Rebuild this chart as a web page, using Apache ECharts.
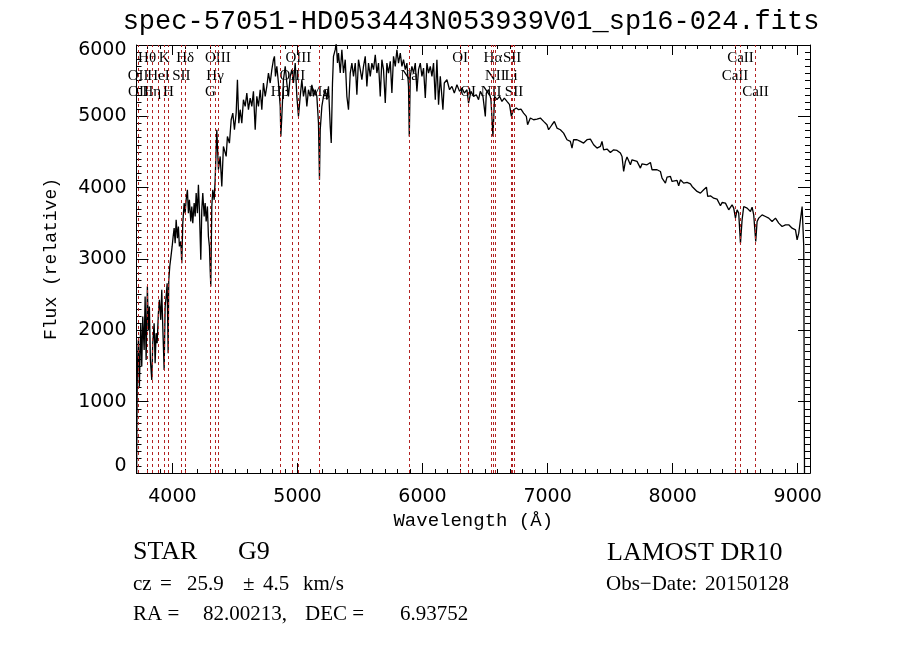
<!DOCTYPE html>
<html><head><meta charset="utf-8">
<script src="https://cdn.jsdelivr.net/npm/echarts@6/dist/echarts.min.js"></script>
<style>html,body{margin:0;padding:0;background:#fff}#c{width:900px;height:649px}</style>
</head><body><div id="c"></div>
<script>
// ---- data ----
const titleText = 'spec-57051-HD053443N053939V01_sp16-024.fits';
const waves = [3714,3717,3720,3728,3736,3747,3755,3763,3774,3782,3790,3800,3808,3816,3824,3835,3843,3854,3862,3870,3878,3888,3896,3907,3915,3923,3934,3942,3950,3958,3966,3971,3979,3987,3998,4006,4014,4022,4030,4040,4048,4056,4067,4075,4083,4094,4102,4110,4120,4128,4136,4147,4155,4163,4174,4182,4190,4200,4208,4216,4227,4235,4243,4254,4262,4270,4280,4288,4296,4302,4307,4315,4323,4334,4342,4355,4368,4382,4395,4408,4430,4440,4456,4470,4483,4496,4510,4520,4531,4542,4555,4568,4582,4595,4608,4622,4635,4648,4662,4675,4688,4702,4715,4728,4742,4755,4768,4782,4795,4808,4816,4824,4835,4848,4862,4867,4875,4888,4902,4915,4928,4942,4955,4968,4982,4995,5008,5022,5035,5048,5062,5075,5088,5102,5115,5128,5142,5155,5168,5176,5182,5195,5208,5222,5235,5248,5262,5270,5280,5288,5302,5310,5320,5328,5342,5355,5368,5382,5395,5408,5422,5435,5448,5462,5475,5488,5502,5515,5528,5542,5555,5568,5582,5595,5608,5622,5635,5648,5662,5675,5688,5702,5715,5728,5742,5755,5768,5782,5795,5808,5822,5835,5848,5862,5875,5888,5894,5902,5915,5928,5942,5955,5968,5982,5995,6008,6022,6035,6048,6062,6075,6088,6102,6115,6128,6142,6163,6174,6195,6216,6235,6254,6275,6296,6315,6334,6355,6368,6387,6408,6430,6448,6462,6483,6502,6510,6528,6547,6563,6576,6595,6616,6635,6654,6675,6696,6710,6728,6750,6768,6787,6808,6830,6840,6862,6888,6915,6942,6968,6995,7008,7035,7054,7075,7102,7128,7155,7182,7195,7208,7235,7262,7288,7315,7342,7368,7395,7422,7435,7448,7475,7502,7528,7555,7582,7595,7608,7622,7635,7662,7675,7688,7715,7742,7755,7768,7795,7822,7835,7848,7875,7902,7915,7942,7955,7982,7995,8008,8035,8048,8062,8088,8115,8142,8155,8168,8195,8222,8248,8270,8280,8302,8328,8355,8382,8395,8422,8448,8475,8488,8502,8515,8528,8542,8555,8568,8595,8622,8635,8648,8664,8675,8688,8715,8742,8768,8795,8822,8848,8875,8902,8928,8955,8982,8995,9008,9022,9035,9043,9048,9054];
const flux = [0,840,1492,1866,1211,2100,1492,2193,1726,2474,1585,2614,2006,2334,1585,1305,1819,2100,1539,1960,1819,2240,2427,2147,2568,2053,1445,2334,2474,2661,1679,2708,2895,3012,3176,3316,3433,3222,3550,3293,3456,3176,3246,2942,3503,3784,3643,3830,3971,3643,3830,3526,3737,3503,3784,3597,3924,3643,4041,3690,2989,3690,3924,3597,3784,3526,3737,3316,3176,2848,2614,3737,3971,3830,4111,4812,4251,4438,4017,4578,4438,4718,4625,4952,5046,4812,5046,5513,4905,5093,4905,5233,5139,5326,5093,5256,5139,5350,4812,5280,5139,5373,5093,5467,5280,5420,5607,5467,5654,5794,5841,5560,5700,5467,5139,4718,4999,5513,5700,5467,5280,5560,5654,5467,5747,5280,4999,5280,5513,5280,5420,5139,5373,5280,5443,5280,5373,5280,4905,4110,4812,5139,5280,5373,5233,5420,4859,4625,5467,5841,5934,6028,5747,5888,5607,5934,5607,5794,5280,5093,5607,5747,5560,5747,5303,5794,5654,5513,5700,5841,5420,5747,5560,5747,5654,5864,5607,5747,5280,5794,5654,5186,5747,5607,5771,5326,5841,5700,5934,5747,5888,5700,5794,5654,5747,5420,4718,5560,5700,5607,5747,5350,5654,5747,5560,5677,5256,5747,5607,5700,5560,5747,5233,5794,5163,5560,5093,5467,5513,5373,5420,5326,5443,5350,5397,5326,5373,5186,5350,5280,5303,5233,5350,5280,4999,5326,5373,5233,4718,5280,5233,5280,5209,5256,5209,5163,4999,5093,5116,5093,5102,5046,4999,4882,4976,4952,4962,4976,4929,4882,4812,4882,4929,4835,4812,4765,4672,4648,4555,4672,4672,4648,4625,4672,4681,4601,4555,4578,4648,4531,4541,4494,4531,4522,4485,4438,4227,4368,4429,4321,4391,4415,4368,4274,4335,4344,4321,4354,4251,4274,4251,4227,4134,4064,4148,4157,4087,4110,4101,4026,4110,4064,4073,4054,4017,4040,3947,3923,3970,4008,3877,3886,3853,3839,3746,3792,3783,3690,3760,3713,3573,3690,3643,3222,3549,3736,3713,3666,3727,3619,3245,3526,3573,3619,3596,3573,3526,3573,3503,3456,3479,3479,3432,3409,3269,3362,3339,3736,3760,3175,0];

// spectral line identifications
const lineNames = ['OII','OII','Hθ','Hη','HeI','K','H','SII','Hδ','G','Hγ','OIII','Hβ','OIII','OIII','Mg','Na','OI','OI','NII','Hα','NII','Li','SII','SII','CaII','CaII','CaII'];
const lineWaves = [3726,3729,3798,3835,3889,3934,3969,4072,4102,4304,4341,4363,4861,4959,5007,5175,5893,6300,6364,6548,6563,6583,6708,6716,6731,8498,8542,8662];
const labelTier = [2,3,1,3,2,1,3,2,1,3,2,1,3,2,1,3,2,1,3,3,1,2,2,1,3,2,1,3];

// axis ticks
const xMajorTicks = [4000,5000,6000,7000,8000,9000];
const yTicks = [0,1000,2000,3000,4000,5000,6000];

// ---- chart ----
const xMin = 3713, xMax = 9098;
const xMinorTicks = [];
for (let v = 3800; v <= 9000; v += 100) if (v % 1000 !== 0) xMinorTicks.push(v);
const tierFlux = {1: 5810, 2: 5570, 3: 5345};

const spec = waves.map((w, i) => [w, flux[i]]);
const labelData = lineWaves.map((w, i) => [w, tierFlux[labelTier[i]], lineNames[i]]);

function xAx(pos, ticks, len, withLabels) {
  const a = {
    type: 'value', min: xMin, max: xMax, position: pos, gridIndex: 0,
    axisLine: {show: true, onZero: false, lineStyle: {color: '#000', width: 1}},
    axisTick: {show: true, inside: true, length: len, customValues: ticks, lineStyle: {color: '#000', width: 1}},
    axisLabel: {show: false},
    splitLine: {show: false}
  };
  if (withLabels) {
    a.axisLabel = {show: true, customValues: ticks, margin: 15, color: '#000', fontFamily: 'DejaVu Sans', fontSize: 19,
      formatter: v => String(v)};
    a.name = 'Wavelength (Å)';
    a.nameLocation = 'middle';
    a.nameGap = 37;
    a.nameTextStyle = {fontFamily: 'Liberation Mono', fontSize: 19, color: '#000'};
  }
  return a;
}
function yAx(pos, withLabels) {
  const a = {
    type: 'value', min: 0, max: 6000, interval: 1000, position: pos, gridIndex: 0,
    axisLine: {show: true, onZero: false, lineStyle: {color: '#000', width: 1}},
    axisTick: {show: true, inside: true, length: 12, lineStyle: {color: '#000', width: 1}},
    minorTick: {show: true, splitNumber: 10, length: 5, lineStyle: {color: '#000', width: 1}},
    axisLabel: {show: false},
    splitLine: {show: false}, minorSplitLine: {show: false}
  };
  if (withLabels) {
    a.axisLabel = {
      show: true, margin: 10, color: '#000', fontFamily: 'DejaVu Sans', fontSize: 19,
      formatter: v => v === yTicks[0] ? '{lo|' + v + '}' : (v === yTicks[yTicks.length - 1] ? '{hi|' + v + '}' : String(v)),
      rich: {
        lo: {fontFamily: 'DejaVu Sans', fontSize: 19, color: '#000', padding: [0, 0, 13, 0]},
        hi: {fontFamily: 'DejaVu Sans', fontSize: 19, color: '#000', padding: [10, 0, 0, 0]}
      }
    };
    a.name = 'Flux (relative)';
    a.nameLocation = 'middle';
    a.nameGap = 76;
    a.nameTextStyle = {fontFamily: 'Liberation Mono', fontSize: 18, color: '#000'};
  }
  return a;
}

const serif = 'Liberation Serif';
function txt(t, x, y, size, fam, align) {
  return {type: 'text', x: x, y: y, silent: true,
    style: {text: t, font: size + 'px "' + (fam || serif) + '"', fill: '#000', textAlign: align || 'left', textVerticalAlign: 'middle'}};
}

const chart = echarts.init(document.getElementById('c'), null, {renderer: 'canvas'});
chart.setOption({
  animation: false,
  backgroundColor: '#fff',
  grid: {left: 136.5, right: 90, top: 45, bottom: 176, containLabel: false},
  xAxis: [
    xAx('bottom', xMajorTicks, 10, true),
    xAx('bottom', xMinorTicks, 4, false),
    xAx('top', xMajorTicks, 10, false),
    xAx('top', xMinorTicks, 4, false)
  ],
  yAxis: [yAx('left', true), yAx('right', false)],
  graphic: [
    txt(titleText, 471, 22, 27, 'Liberation Mono', 'center'),
    txt('STAR', 133, 552, 26),
    txt('G9', 238, 552, 26),
    txt('LAMOST DR10', 607, 553, 26),
    txt('cz', 133, 584, 21),
    txt('=', 160, 584, 21),
    txt('25.9', 187, 584, 21),
    txt('±', 243, 584, 21),
    txt('4.5', 263, 584, 21),
    txt('km/s', 303, 584, 21),
    txt('Obs−Date:', 606, 584, 21),
    txt('20150128', 705, 584, 21),
    txt('RA =', 133, 614, 21),
    txt('82.00213,', 203, 614, 21),
    txt('DEC =', 305, 614, 21),
    txt('6.93752', 400, 614, 21)
  ],
  series: [
    {
      type: 'scatter', xAxisIndex: 0, yAxisIndex: 0, z: 2, silent: true,
      symbolSize: 0, data: labelData,
      itemStyle: {opacity: 1},
      label: {show: true, position: 'inside', formatter: p => p.data[2], color: '#000', opacity: 1,
        fontFamily: serif, fontSize: 15, textBorderWidth: 0, textBorderColor: 'transparent'},
      markLine: {
        silent: true, symbol: ['none', 'none'], animation: false,
        label: {show: false},
        lineStyle: {color: '#b22222', type: [3, 3], width: 1, opacity: 1},
        emphasis: {disabled: true},
        data: lineWaves.map(w => ({xAxis: w}))
      }
    },
    {
      type: 'line', xAxisIndex: 0, yAxisIndex: 0, z: 3, silent: true,
      data: spec, showSymbol: false, symbol: 'none', clip: true,
      lineStyle: {color: '#000', width: 1.3}
    }
  ]
});
</script>
</body></html>
